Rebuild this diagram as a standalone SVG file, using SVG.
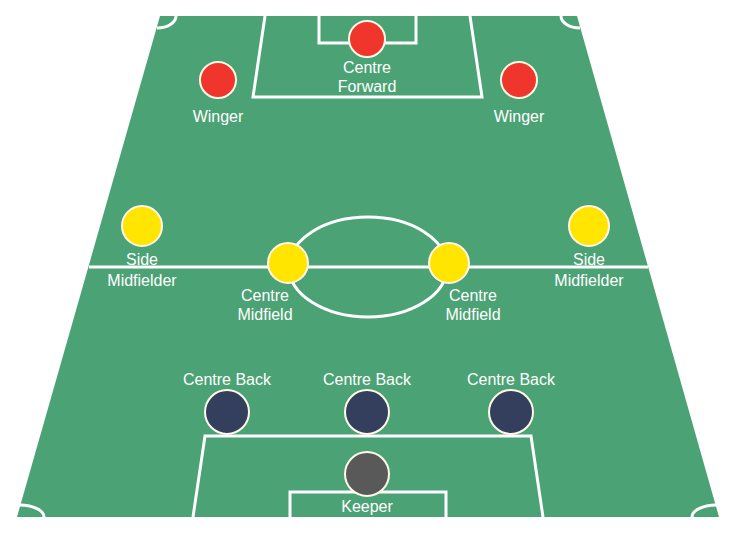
<svg xmlns="http://www.w3.org/2000/svg" width="736" height="534" viewBox="0 0 736 534">
<style>
.line{fill:none;stroke:#ffffff;stroke-width:3}
.p{stroke:#fff8e8;stroke-width:2}
.red{fill:#f0352c}
.yel{fill:#ffe500}
.navy{fill:#333f5c}
.keep{fill:#595959}
text{font-family:"Liberation Sans",Arial,sans-serif;font-size:16px;fill:#ffffff;text-anchor:middle}
</style>
<rect width="736" height="534" fill="#ffffff"/>
<g id="pitch">
<polygon points="160,16 577,16 719,517 17,517" fill="#4ba274"/>
<line class="line" x1="89" y1="267" x2="648" y2="267"/>
<ellipse class="line" cx="368" cy="267" rx="79" ry="50"/>
<polyline class="line" points="265,16 253,97 482,97 470,16"/>
<polyline class="line" points="319,16 319,43 416,43 416,16"/>
<polyline class="line" points="193,517 205,436 531,436 543,517"/>
<polyline class="line" points="290,517 290,492 446,492 446,517"/>
<path class="line" d="M157,28 A19,12 0 0 0 176,16"/>
<path class="line" d="M580,28 A19,12 0 0 1 561,16"/>
<path class="line" d="M20,505 A25,12 0 0 1 44,517"/>
<path class="line" d="M716,505 A25,12 0 0 0 692,517"/>
</g>
<g id="centre-forward"><circle class="p red" cx="367" cy="39" r="18"/><text x="367" y="73">Centre</text><text x="367" y="92">Forward</text></g>
<g id="winger-left"><circle class="p red" cx="218" cy="80" r="18"/><text x="218" y="122">Winger</text></g>
<g id="winger-right"><circle class="p red" cx="519" cy="80" r="18"/><text x="519" y="122">Winger</text></g>
<g id="side-mid-left"><circle class="p yel" cx="142" cy="226" r="20"/><text x="142" y="265">Side</text><text x="142" y="286">Midfielder</text></g>
<g id="side-mid-right"><circle class="p yel" cx="589" cy="226" r="20"/><text x="589" y="265">Side</text><text x="589" y="286">Midfielder</text></g>
<g id="centre-mid-left"><circle class="p yel" cx="288" cy="263" r="20"/><text x="265" y="301">Centre</text><text x="265" y="320">Midfield</text></g>
<g id="centre-mid-right"><circle class="p yel" cx="449" cy="263" r="20"/><text x="473" y="301">Centre</text><text x="473" y="320">Midfield</text></g>
<g id="centre-back-1"><circle class="p navy" cx="227" cy="412" r="22"/><text x="227" y="385">Centre Back</text></g>
<g id="centre-back-2"><circle class="p navy" cx="367" cy="412" r="22"/><text x="367" y="385">Centre Back</text></g>
<g id="centre-back-3"><circle class="p navy" cx="511" cy="412" r="22"/><text x="511" y="385">Centre Back</text></g>
<g id="keeper"><circle class="p keep" cx="367" cy="474" r="22"/><text x="367" y="512">Keeper</text></g>
<g id="connectors"></g>
</svg>
